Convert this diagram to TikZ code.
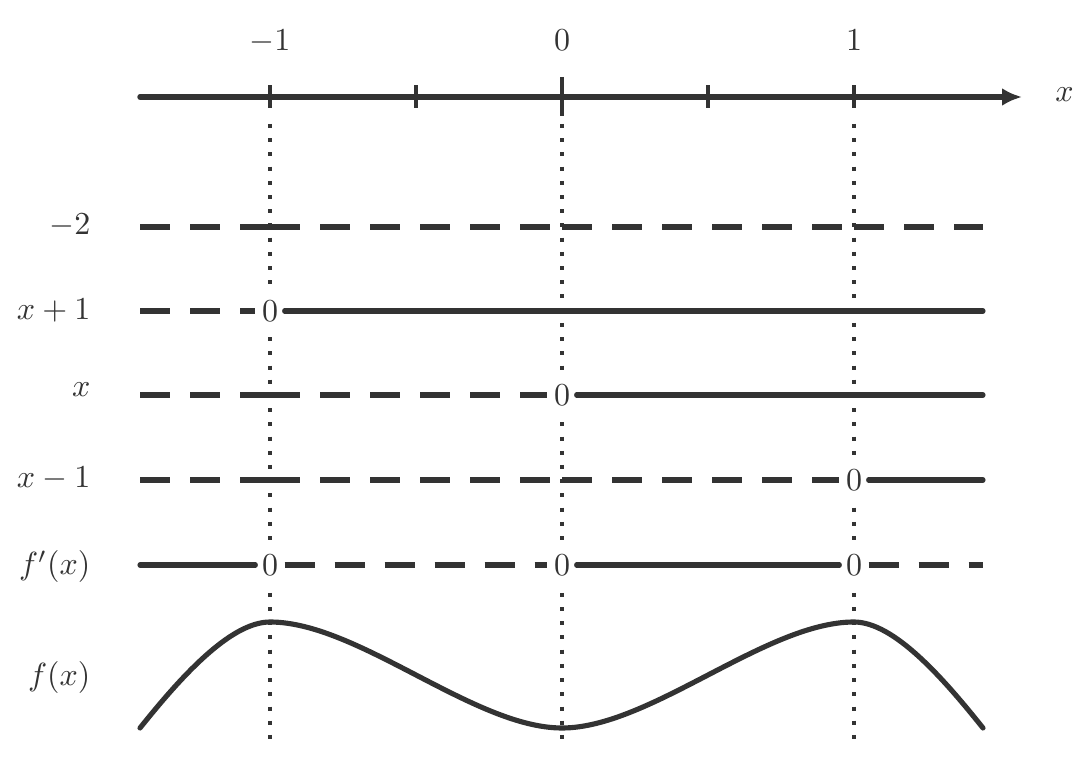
\documentclass[tikz,border=0pt]{standalone}
\usetikzlibrary{arrows.meta}
\definecolor{ink}{HTML}{333333}
\begin{document}
\begin{tikzpicture}[x=0.3125pt,y=-0.3125pt,
  axisline/.style={draw=ink, line width=1.7pt, line cap=round},
  tickmark/.style={draw=ink, line width=1.4pt},
  guideline/.style={draw=ink, line width=1.25pt, dash pattern=on 1.25pt off 3.19pt},
  negline/.style={draw=ink, line width=1.6pt, dash pattern=on 9.375pt off 6.25pt},
  posline/.style={draw=ink, line width=1.6pt, line cap=round},
  zerobox/.style={fill=white, inner xsep=1.875pt, inner ysep=3.125pt, text=ink},
  rowlab/.style={text=ink, anchor=base east, inner sep=0pt},
  toplab/.style={text=ink, anchor=base, inner sep=0pt}]
\path[fill=white, use as bounding box] (0,0) rectangle (1088,783);

% axis
\coordinate (axL) at (140,97);
\coordinate (axR) at (1022,97);
\draw[axisline,-{Latex[length=6.25pt,width=5.6pt]}] (axL) -- (axR);
\draw[tickmark] (270,85.5) -- (270,108.5);
\draw[tickmark] (416,85.5) -- (416,108.5);
\draw[tickmark] (562,77) -- (562,116);
\draw[tickmark] (708,85.5) -- (708,108.5);
\draw[tickmark] (854,85.5) -- (854,108.5);
\node[toplab] (tm1) at (270,51) {$-1$};
\node[toplab] (t0) at (562,51) {$0$};
\node[toplab] (t1) at (854,51) {$1$};
\node[toplab] (tx) at (1064.5,102) {$x$};

% guides
\coordinate (gaT) at (270,124); \coordinate (gaB) at (270,740);
\coordinate (gbT) at (562,124); \coordinate (gbB) at (562,740);
\coordinate (gcT) at (854,124); \coordinate (gcB) at (854,740);
\draw[guideline] (gaT) -- (gaB);
\draw[guideline] (gbT) -- (gbB);
\draw[guideline] (gcT) -- (gcB);

% row labels
\node[rowlab] (lm2) at (91,235) {$-2$};
\node[rowlab] (lxp) at (91,320) {$x+1$};
\node[rowlab] (lxx) at (91,397) {$x$};
\node[rowlab] (lxm) at (91,488) {$x-1$};
\node[rowlab] (lfp) at (91,575) {$f'(x)$};
\node[rowlab] (lf) at (91,685) {$f(x)$};

% zero nodes
\node[zerobox] (zxp) at (270,311) {0};
\node[zerobox] (zxx) at (562,395) {0};
\node[zerobox] (zxm) at (854,480) {0};
\node[zerobox] (zf1) at (270,565) {0};
\node[zerobox] (zf2) at (562,565) {0};
\node[zerobox] (zf3) at (854,565) {0};

% row -2
\coordinate (m2L) at (140,227); \coordinate (m2a) at (270,227);
\coordinate (m2b) at (562,227); \coordinate (m2c) at (854,227);
\coordinate (m2R) at (983,227);
\draw[negline] (m2L) -- (m2a);
\draw[negline] (m2a) -- (m2b);
\draw[negline] (m2b) -- (m2c);
\draw[negline] (m2c) -- (m2R);

% row x+1
\coordinate (xpL) at (140,311); \coordinate (xpR) at (983,311);
\draw[negline] (xpL) -- (zxp.west);
\draw[posline] (zxp.east) -- (xpR);

% row x
\coordinate (xxL) at (140,395); \coordinate (xxa) at (270,395);
\coordinate (xxR) at (983,395);
\draw[negline] (xxL) -- (xxa);
\draw[negline] (xxa) -- (zxx.west);
\draw[posline] (zxx.east) -- (xxR);

% row x-1
\coordinate (xmL) at (140,480); \coordinate (xma) at (270,480);
\coordinate (xmb) at (562,480); \coordinate (xmR) at (983,480);
\draw[negline] (xmL) -- (xma);
\draw[negline] (xma) -- (xmb);
\draw[negline] (xmb) -- (zxm.west);
\draw[posline] (zxm.east) -- (xmR);

% row f'
\coordinate (fpL) at (140,565); \coordinate (fpR) at (983,565);
\draw[posline] (fpL) -- (zf1.west);
\draw[negline] (zf1.east) -- (zf2.west);
\draw[posline] (zf2.east) -- (zf3.west);
\draw[negline] (zf3.east) -- (fpR);

% curve f
\coordinate (fA) at (140,728);
\coordinate (fB) at (270,622);
\coordinate (fC) at (562,728);
\coordinate (fD) at (854,622);
\coordinate (fE) at (983,728);
\draw[posline] (fA) .. controls (180,678) and (230,622) .. (fB)
  .. controls (358,622) and (474,728) .. (fC)
  .. controls (650,728) and (766,622) .. (fD)
  .. controls (894,622) and (943,678) .. (fE);
\end{tikzpicture}
\end{document}
